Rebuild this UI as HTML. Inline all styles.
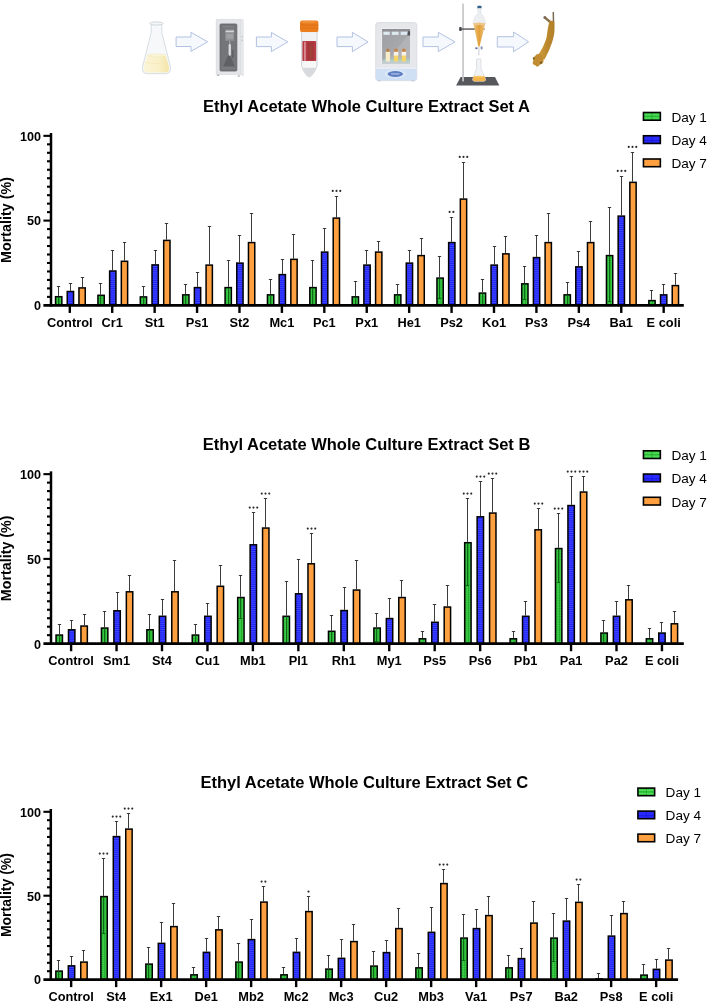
<!DOCTYPE html>
<html><head><meta charset="utf-8"><title>Ethyl Acetate Whole Culture Extract</title>
<style>
html,body{margin:0;padding:0;background:#fff}
body{width:708px;height:1001px;overflow:hidden;font-family:"Liberation Sans",sans-serif}
svg{display:block;will-change:transform}
text{font-family:"Liberation Sans",sans-serif;fill:#000}
.bar{stroke:#000;stroke-width:1.5}
.er{stroke:#262626;stroke-width:.9;fill:none}
.erg{stroke:#0a5e14;stroke-width:1;fill:none;opacity:.9}
.xa{stroke:#000;stroke-width:2.8;fill:none}
.ya{stroke:#000;stroke-width:2.5;fill:none}
.tk{stroke:#000;stroke-width:2.1;fill:none}
.xt{stroke:#000;stroke-width:2.4;fill:none}
.gl{font-weight:bold;text-anchor:middle}
.tl{font-weight:bold;text-anchor:end}
.yt{font-weight:bold;text-anchor:middle}
.ti{font-weight:bold;text-anchor:middle}
.lt{font-weight:normal}
.st{fill:#2a2a2a}
</style></head><body>
<svg width="708" height="1001" viewBox="0 0 708 1001">
<defs>
<pattern id="pg" width="6.4" height="8.1" patternUnits="userSpaceOnUse"><rect width="6.4" height="8.1" fill="#1fab2b"/><g fill="#49da53"><rect x="0.45" y="0.3" width="2.3" height="1.0"/><rect x="3.65" y="0.3" width="2.3" height="1.0"/><rect x="0.45" y="1.92" width="2.3" height="1.0"/><rect x="3.65" y="1.92" width="2.3" height="1.0"/><rect x="0.45" y="3.54" width="2.3" height="1.0"/><rect x="3.65" y="3.54" width="2.3" height="1.0"/><rect x="0.45" y="5.16" width="2.3" height="1.0"/><rect x="3.65" y="5.16" width="2.3" height="1.0"/><rect x="0.45" y="6.78" width="2.3" height="1.0"/><rect x="3.65" y="6.78" width="2.3" height="1.0"/></g></pattern>
<pattern id="pb" width="8" height="7.6" patternUnits="userSpaceOnUse"><rect width="8" height="7.6" fill="#1f1ff6"/><g fill="#4550ff"><rect y="0.0" width="8" height=".85"/><rect y="1.9" width="8" height=".85"/><rect y="3.8" width="8" height=".85"/><rect y="5.7" width="8" height=".85"/></g></pattern>
<pattern id="lg" width="6" height="2.2" patternUnits="userSpaceOnUse" patternTransform="translate(1.2 .6)"><rect width="6" height="2.2" fill="#3fd143"/><rect width="6" height=".6" fill="#22a82a"/><rect width=".6" height="2.2" fill="#22a82a"/></pattern>
<pattern id="lb" width="8.4" height="4.2" patternUnits="userSpaceOnUse" patternTransform="translate(1 1.4)"><rect width="8.4" height="4.2" fill="#2b2bff"/><rect width="8.4" height=".5" fill="#1a1ad0"/><rect width=".5" height="4.2" fill="#1a1ad0"/></pattern>
</defs>
<rect width="708" height="1001" fill="#fff"/>
<g id="icons">
<defs>
<filter id="soft" x="-5%" y="-5%" width="110%" height="110%"><feGaussianBlur stdDeviation="0.6"/></filter>
<linearGradient id="liq" x1="0" x2="1"><stop offset="0" stop-color="#fbf4d6"/><stop offset=".6" stop-color="#f9f0c8"/><stop offset="1" stop-color="#f4e4a6"/></linearGradient>
<linearGradient id="cone" x1="0" x2="1"><stop offset="0" stop-color="#eec27c"/><stop offset=".5" stop-color="#e2a03a"/><stop offset="1" stop-color="#efc583"/></linearGradient>
<linearGradient id="win" x1="0" y1="0" x2="1" y2="1"><stop offset="0" stop-color="#9c9ea3"/><stop offset=".55" stop-color="#a6a8ac"/><stop offset=".56" stop-color="#b0b2b6"/><stop offset="1" stop-color="#b4b6ba"/></linearGradient>
<linearGradient id="lar" x1="0" x2="1"><stop offset="0" stop-color="#d3a043"/><stop offset=".5" stop-color="#be8a2e"/><stop offset="1" stop-color="#b07f2a"/></linearGradient>
</defs>
<g filter="url(#soft)">
<!-- arrows -->
<g fill="#f5f8fc" stroke="#aebfe2" stroke-width=".95" stroke-linejoin="miter">
<path d="M176.1 37H191V32.3L207.6 41.8 191 51.4V46.5H176.1Z"/>
<path d="M256.4 37H271.4V32.4L287.8 41.9 271.4 51.6V46.6H256.4Z"/>
<path d="M337 37H352.4V32.3L368 41.9 352.4 51.6V46.6H337Z"/>
<path d="M423 37H438.3V32.3L455 41.9 438.3 51.6V46.6H423Z"/>
<path d="M497.3 36.7H513.6V32L528.6 41.8 513.6 51.8V47H497.3Z"/>
</g>
<!-- 1 erlenmeyer flask -->
<g>
<path d="M151.2 24.5V32.5L142.6 66.5Q141.2 73.6 147.5 73.7H165.5Q171.8 73.6 170.4 66.5L161.8 32.5V24.5Z" fill="#f6f8f9" stroke="#d3d9dd" stroke-width=".9"/>
<path d="M147.2 55.4Q156.4 52.6 165.6 55.4L168.8 66.3Q170.3 72.4 165.2 72.5H147.8Q142.7 72.4 143.8 66.3Z" fill="url(#liq)"/>
<ellipse cx="156.4" cy="55.4" rx="9.1" ry="1.5" fill="#fbf5d8" stroke="#efe6b8" stroke-width=".5"/>
<path d="M145.6 62.5Q156.4 65 167.4 62.5" fill="none" stroke="#f1e6b4" stroke-width=".6"/>
<ellipse cx="156.4" cy="23.5" rx="6.6" ry="1.6" fill="#f4f7f8" stroke="#c9d2d6" stroke-width=".9"/>
</g>
<!-- 2 sonicator cabinet -->
<g>
<path d="M240 19.4H243.4V76L240 74.6Z" fill="#e7e8ec" stroke="#d6d8dc" stroke-width=".4"/>
<rect x="216.1" y="19.4" width="24.1" height="55.2" fill="#e4e5e9" stroke="#d2d4d9" stroke-width=".5"/>
<rect x="220" y="23.9" width="16.9" height="47.2" rx="1.2" fill="#737578" stroke="#616366" stroke-width=".7"/>
<rect x="225.2" y="29.2" width="9" height="11.6" fill="#8e9093"/>
<rect x="225.6" y="30.7" width="8.3" height="1.5" fill="#d4d6d8"/>
<rect x="226.2" y="34" width="7" height="4.6" fill="#9fa1a4"/>
<rect x="222.6" y="26" width="11.5" height="1.6" fill="#808285"/>
<path d="M229.2 52.5L222.8 67.8H235.2Z" fill="#5f6164"/>
<rect x="228.6" y="44" width="2.3" height="11.8" rx="1.1" fill="#dcdcde"/>
<rect x="229.4" y="40.8" width=".8" height="3.6" fill="#b9babd"/>
<rect x="232.4" y="50" width=".9" height="8" fill="#55575a"/>
<rect x="222" y="66.5" width="13" height="2.6" fill="#808386" opacity=".7"/>
<rect x="217.2" y="74.6" width="2" height="1.3" fill="#a9abae"/>
<rect x="237.8" y="75.4" width="2" height="1.3" fill="#a9abae"/>
<rect x="241.6" y="35.8" width=".9" height="1.5" fill="#b5b7bb"/>
<rect x="241.6" y="39.6" width=".9" height="1.5" fill="#b5b7bb"/>
</g>
<!-- 3 falcon tube -->
<g>
<path d="M301.6 31.5V66Q302.6 70.6 306.6 75.4Q309.2 78.4 311.8 75.4Q316 70.6 317.1 66V31.5Z" fill="#eceef0" stroke="#c9ccd1" stroke-width=".8" stroke-linejoin="round"/>
<path d="M302.8 67.4Q304.4 71.6 307.4 75Q309.2 76.8 311 75Q314.4 71.6 316 67.4Z" fill="#d7d9dc"/>
<rect x="302.5" y="61" width="13.7" height="6.6" fill="#f7f7f8"/>
<rect x="302.4" y="41.1" width="13.8" height="19.9" rx=".8" fill="#b73a44"/>
<rect x="307.5" y="42.5" width="6.5" height="17" fill="#a5383a"/>
<rect x="310" y="46" width="1.6" height="11" fill="#9b4a38" opacity=".7"/>
<rect x="304.4" y="41.8" width="1.1" height="19" fill="#ecc0c3"/>
<rect x="302.6" y="33" width="13.6" height="8" fill="#f2f3f5" opacity=".8"/>
<rect x="300" y="20.5" width="18.4" height="11.6" rx="2.2" fill="#ec7d1f"/>
<rect x="300.3" y="24.6" width="17.8" height="1.1" fill="#d96c15" opacity=".8"/>
<rect x="300.3" y="27.6" width="17.8" height="1.1" fill="#d96c15" opacity=".7"/>
<ellipse cx="309.2" cy="22" rx="8" ry="1.2" fill="#f19540" opacity=".8"/>
</g>
<!-- 4 incubator shaker -->
<g>
<rect x="375.7" y="22.6" width="41.1" height="58" rx="2.6" fill="#e5e7eb" stroke="#d3d6db" stroke-width=".7"/>
<path d="M375.9 68.4H416.6V78.4Q416.6 80.4 414.4 80.4H378.1Q375.9 80.4 375.9 78.4Z" fill="#cfe0f4"/>
<rect x="375.9" y="67.6" width="40.7" height="1.1" fill="#eef1f5"/>
<ellipse cx="395.4" cy="74" rx="11" ry="4.4" fill="#dbe7f8"/>
<ellipse cx="395.3" cy="74" rx="7.8" ry="2.9" fill="#5f7fc3"/>
<rect x="391" y="73.1" width="8.6" height="1.6" rx=".6" fill="#a9bde6" opacity=".75"/>
<rect x="381.4" y="28.3" width="29.4" height="35.9" fill="#eff0f2"/>
<rect x="382.1" y="29" width="28" height="34.5" fill="url(#win)"/>
<rect x="382.1" y="29" width="28" height="2.4" fill="#8e9095"/>
<rect x="383.4" y="31.7" width="6.3" height="3.2" fill="#dde9f0"/>
<rect x="391.8" y="31.7" width="6.8" height="3.2" fill="#dde9f0"/>
<rect x="400.7" y="31.7" width="6.8" height="3.2" fill="#dde9f0"/>
<path d="M408 31.2H410.1V35.4H407.3Z" fill="#505256"/>
<rect x="382.1" y="60.2" width="28" height="3.3" fill="#c3ccd0"/>
<g>
<rect x="385.7" y="51.6" width="4.4" height="10" rx="1" fill="#f6ecc8"/>
<rect x="386.3" y="48.8" width="3.2" height="3" rx=".6" fill="#b9814a"/>
<rect x="393.9" y="51.6" width="4.4" height="5" rx="1" fill="#f7f3ea"/>
<rect x="393.9" y="55.6" width="4.4" height="6" rx=".8" fill="#f4d568"/>
<rect x="394.4" y="48.8" width="3.4" height="3" rx=".6" fill="#cc8440"/>
<rect x="401.7" y="51.6" width="4.4" height="5" rx="1" fill="#f7f3ea"/>
<rect x="401.7" y="55.6" width="4.4" height="6" rx=".8" fill="#f4d568"/>
<rect x="402.2" y="48.8" width="3.4" height="3" rx=".6" fill="#cc8440"/>
<rect x="383.6" y="58.6" width="1.6" height="3.6" fill="#a8d6c8" opacity=".8"/>
<rect x="391.2" y="58.6" width="2" height="3.6" fill="#a8d6c8" opacity=".8"/>
<rect x="399" y="58.6" width="2" height="3.6" fill="#a8d6c8" opacity=".8"/>
<rect x="406.8" y="58.6" width="1.8" height="3.6" fill="#a8d6c8" opacity=".8"/>
</g>
<rect x="378" y="80.4" width="2.6" height="1" fill="#b9c6d6"/>
<rect x="411.8" y="80.4" width="2.6" height="1" fill="#b9c6d6"/>
</g>
<!-- 5 stand + separatory funnel -->
<g>
<path d="M460.6 76.9H495L499.3 85.4H456.1Z" fill="#56585c"/>
<rect x="462.2" y="3.6" width="1.7" height="77.8" fill="#c6c7c9"/>
<rect x="459.4" y="28.4" width="25.2" height="1.3" fill="#4f4b49"/>
<rect x="459.3" y="27" width="2.3" height="4.1" rx=".6" fill="#47444a"/>
<!-- funnel top -->
<rect x="477.4" y="5.8" width="4.1" height="2.8" rx=".7" fill="#2f5f88"/>
<path d="M477.9 8.6H481V13.5Q485.2 17.5 485.4 24H473.2Q473.4 17.5 477.9 13.5Z" fill="#eceef1" stroke="#dcdfe3" stroke-width=".6"/>
<path d="M473.4 23.6Q479.3 22 485.3 23.6L479.5 46.8H478.4Z" fill="url(#cone)"/>
<path d="M473.4 23.6Q479.3 22 485.3 23.6L484.8 25.6Q479.3 24.2 473.9 25.6Z" fill="#efc995" opacity=".85"/>
<!-- stopcock + stem -->
<rect x="475.2" y="47.2" width="2.4" height="2" rx=".8" fill="#6a76a8"/>
<rect x="480.6" y="46.2" width="2" height="3.4" rx=".8" fill="#8a93bd"/>
<rect x="478.3" y="46.8" width="1.2" height="8.6" fill="#d4d6da"/>
<!-- receiving flask -->
<path d="M476.6 58.9H481V68.5L485.5 79.2Q485.8 81 483.8 81.2H474.4Q472.4 81 472.7 79.2L476.6 68.5Z" fill="#f1f3f5" stroke="#d5d9dd" stroke-width=".7"/>
<path d="M473.5 76.6Q479 75.4 484.6 76.6L485.3 79.2Q485.5 81 483.7 81.2H474.5Q472.7 81 472.9 79.2Z" fill="#f3b548"/>
<ellipse cx="479" cy="76.6" rx="5.5" ry=".9" fill="#f7c969"/>
</g>
<!-- 6 larva -->
<g>
<path d="M553.3 12.6L553.5 22" stroke="#7c6a52" stroke-width="1.5" stroke-linecap="round" fill="none"/>
<path d="M545.2 17.8L550.2 22" stroke="#86704f" stroke-width="2.4" stroke-linecap="round" fill="none"/>
<circle cx="544.9" cy="17.6" r="1.5" fill="#7d6b55"/>
<path d="M549.2 21.4Q551.8 19.9 554.4 21.4C554.7 28 554.5 33 553.8 35.8C553 40.2 551.3 45 549.8 48.4C548.4 51.6 546.2 56.4 544.2 59.8L538 54.4C540.4 52 542.6 47.6 543.8 44.9C545 42 546 40 546.4 38.1C547.1 34 547.3 32 547.6 29.7Z" fill="url(#lar)"/>
<path d="M538.6 54Q542.8 54.6 543.6 59.4Q543.8 63.6 540.2 64.6Q539 66.6 536.8 66.8Q535.4 64.8 533.4 64.6Q532 62.6 533.4 60.4Q532.2 57.8 534.6 56.4Q536.2 54 538.6 54Z" fill="#c08d31"/>
<circle cx="533.9" cy="58.4" r="1.1" fill="#7f6420"/>
<circle cx="540.9" cy="62.7" r="1.1" fill="#6e5a22"/>
<circle cx="539.2" cy="60.6" r=".8" fill="#e98a3a"/>
</g>
</g>

</g>
<g id="chartA">
<path d="M58.5 295.95V286.5M56.85 286.5H60.15" class="er"/>
<g transform="translate(56.3 296.7)"><rect x="-0.75" y="0" width="6.3" height="8.65" fill="url(#pg)" class="bar"/></g>
<path d="M58.5 296.95V304.35" class="erg"/>
<path d="M70.5 290.75V283.5M68.85 283.5H72.15" class="er"/>
<rect x="67.25" y="291.5" width="6.3" height="13.85" fill="url(#pb)" class="bar"/>
<path d="M82.5 287.15V277.5M80.85 277.5H84.15" class="er"/>
<rect x="78.95" y="287.9" width="6.3" height="17.45" fill="#ffa040" class="bar"/>
<path d="M69.8 305.35V312.95" class="xt"/>
<text x="69.8" y="326.85" class="gl" style="font-size:12.8px">Control</text>
<path d="M100.5 294.55V283.5M98.85 283.5H102.15" class="er"/>
<g transform="translate(98.68 295.3)"><rect x="-0.75" y="0" width="6.3" height="10.05" fill="url(#pg)" class="bar"/></g>
<path d="M100.5 295.55V304.35" class="erg"/>
<path d="M112.5 270.25V250.5M110.85 250.5H114.15" class="er"/>
<rect x="109.63" y="271" width="6.3" height="34.35" fill="url(#pb)" class="bar"/>
<path d="M124.5 260.55V242.5M122.85 242.5H126.15" class="er"/>
<rect x="121.33" y="261.3" width="6.3" height="44.05" fill="#ffa040" class="bar"/>
<path d="M112.22 305.35V312.95" class="xt"/>
<text x="112.22" y="326.85" class="gl" style="font-size:12.8px">Cr1</text>
<path d="M143.5 296.15V286.5M141.85 286.5H145.15" class="er"/>
<g transform="translate(141.05 296.9)"><rect x="-0.75" y="0" width="6.3" height="8.45" fill="url(#pg)" class="bar"/></g>
<path d="M143.5 297.15V304.35" class="erg"/>
<path d="M155.5 264.15V250.5M153.85 250.5H157.15" class="er"/>
<rect x="152" y="264.9" width="6.3" height="40.45" fill="url(#pb)" class="bar"/>
<path d="M166.5 239.65V223.5M164.85 223.5H168.15" class="er"/>
<rect x="163.7" y="240.4" width="6.3" height="64.95" fill="#ffa040" class="bar"/>
<path d="M154.64 305.35V312.95" class="xt"/>
<text x="154.64" y="326.85" class="gl" style="font-size:12.8px">St1</text>
<path d="M185.5 294.1V284.5M183.85 284.5H187.15" class="er"/>
<g transform="translate(183.43 294.85)"><rect x="-0.75" y="0" width="6.3" height="10.5" fill="url(#pg)" class="bar"/></g>
<path d="M185.5 295.1V304.35" class="erg"/>
<path d="M197.5 286.85V272.5M195.85 272.5H199.15" class="er"/>
<rect x="194.38" y="287.6" width="6.3" height="17.75" fill="url(#pb)" class="bar"/>
<path d="M209.5 264.35V226.5M207.85 226.5H211.15" class="er"/>
<rect x="206.08" y="265.1" width="6.3" height="40.25" fill="#ffa040" class="bar"/>
<path d="M197.06 305.35V312.95" class="xt"/>
<text x="197.06" y="326.85" class="gl" style="font-size:12.8px">Ps1</text>
<path d="M228.5 286.85V260.5M226.85 260.5H230.15" class="er"/>
<g transform="translate(225.81 287.6)"><rect x="-0.75" y="0" width="6.3" height="17.75" fill="url(#pg)" class="bar"/></g>
<path d="M228.5 287.85V304.35" class="erg"/>
<path d="M239.5 262.35V235.5M237.85 235.5H241.15" class="er"/>
<rect x="236.76" y="263.1" width="6.3" height="42.25" fill="url(#pb)" class="bar"/>
<path d="M251.5 241.85V213.5M249.85 213.5H253.15" class="er"/>
<rect x="248.46" y="242.6" width="6.3" height="62.75" fill="#ffa040" class="bar"/>
<path d="M239.48 305.35V312.95" class="xt"/>
<text x="239.48" y="326.85" class="gl" style="font-size:12.8px">St2</text>
<path d="M270.5 294.1V279.5M268.85 279.5H272.15" class="er"/>
<g transform="translate(268.19 294.85)"><rect x="-0.75" y="0" width="6.3" height="10.5" fill="url(#pg)" class="bar"/></g>
<path d="M270.5 295.1V304.35" class="erg"/>
<path d="M282.5 273.85V259.5M280.85 259.5H284.15" class="er"/>
<rect x="279.14" y="274.6" width="6.3" height="30.75" fill="url(#pb)" class="bar"/>
<path d="M293.5 258.6V234.5M291.85 234.5H295.15" class="er"/>
<rect x="290.84" y="259.35" width="6.3" height="46" fill="#ffa040" class="bar"/>
<path d="M281.9 305.35V312.95" class="xt"/>
<text x="281.9" y="326.85" class="gl" style="font-size:12.8px">Mc1</text>
<path d="M312.5 286.85V260.5M310.85 260.5H314.15" class="er"/>
<g transform="translate(310.56 287.6)"><rect x="-0.75" y="0" width="6.3" height="17.75" fill="url(#pg)" class="bar"/></g>
<path d="M312.5 287.85V304.35" class="erg"/>
<path d="M324.5 251.35V228.5M322.85 228.5H326.15" class="er"/>
<rect x="321.51" y="252.1" width="6.3" height="53.25" fill="url(#pb)" class="bar"/>
<path d="M336.5 217.35V196.5M334.85 196.5H338.15" class="er"/>
<rect x="333.21" y="218.1" width="6.3" height="87.25" fill="#ffa040" class="bar"/>
<circle cx="332.75" cy="190.9" r="1.05" class="st"/>
<circle cx="336.5" cy="190.9" r="1.05" class="st"/>
<circle cx="340.25" cy="190.9" r="1.05" class="st"/>
<path d="M324.32 305.35V312.95" class="xt"/>
<text x="324.32" y="326.85" class="gl" style="font-size:12.8px">Pc1</text>
<path d="M355.5 296.1V281.5M353.85 281.5H357.15" class="er"/>
<g transform="translate(352.94 296.85)"><rect x="-0.75" y="0" width="6.3" height="8.5" fill="url(#pg)" class="bar"/></g>
<path d="M355.5 297.1V304.35" class="erg"/>
<path d="M366.5 264.35V250.5M364.85 250.5H368.15" class="er"/>
<rect x="363.89" y="265.1" width="6.3" height="40.25" fill="url(#pb)" class="bar"/>
<path d="M378.5 251.35V241.5M376.85 241.5H380.15" class="er"/>
<rect x="375.59" y="252.1" width="6.3" height="53.25" fill="#ffa040" class="bar"/>
<path d="M366.74 305.35V312.95" class="xt"/>
<text x="366.74" y="326.85" class="gl" style="font-size:12.8px">Px1</text>
<path d="M397.5 294.1V284.5M395.85 284.5H399.15" class="er"/>
<g transform="translate(395.32 294.85)"><rect x="-0.75" y="0" width="6.3" height="10.5" fill="url(#pg)" class="bar"/></g>
<path d="M397.5 295.1V304.35" class="erg"/>
<path d="M409.5 262.35V250.5M407.85 250.5H411.15" class="er"/>
<rect x="406.27" y="263.1" width="6.3" height="42.25" fill="url(#pb)" class="bar"/>
<path d="M421.5 254.85V238.5M419.85 238.5H423.15" class="er"/>
<rect x="417.97" y="255.6" width="6.3" height="49.75" fill="#ffa040" class="bar"/>
<path d="M409.16 305.35V312.95" class="xt"/>
<text x="409.16" y="326.85" class="gl" style="font-size:12.8px">He1</text>
<path d="M439.5 277.35V256.5M437.85 256.5H441.15" class="er"/>
<g transform="translate(437.69 278.1)"><rect x="-0.75" y="0" width="6.3" height="27.25" fill="url(#pg)" class="bar"/></g>
<path d="M439.5 278.35V298.5M437.8 298.5H441.2" class="erg"/>
<path d="M451.5 241.85V217.5M449.85 217.5H453.15" class="er"/>
<rect x="448.64" y="242.6" width="6.3" height="62.75" fill="url(#pb)" class="bar"/>
<circle cx="449.62" cy="211.9" r="1.05" class="st"/>
<circle cx="453.38" cy="211.9" r="1.05" class="st"/>
<path d="M463.5 198.35V162.5M461.85 162.5H465.15" class="er"/>
<rect x="460.34" y="199.1" width="6.3" height="106.25" fill="#ffa040" class="bar"/>
<circle cx="459.75" cy="156.9" r="1.05" class="st"/>
<circle cx="463.5" cy="156.9" r="1.05" class="st"/>
<circle cx="467.25" cy="156.9" r="1.05" class="st"/>
<path d="M451.58 305.35V312.95" class="xt"/>
<text x="451.58" y="326.85" class="gl" style="font-size:12.8px">Ps2</text>
<path d="M482.5 292.35V279.5M480.85 279.5H484.15" class="er"/>
<g transform="translate(480.07 293.1)"><rect x="-0.75" y="0" width="6.3" height="12.25" fill="url(#pg)" class="bar"/></g>
<path d="M482.5 293.35V304.35" class="erg"/>
<path d="M494.5 264.35V246.5M492.85 246.5H496.15" class="er"/>
<rect x="491.02" y="265.1" width="6.3" height="40.25" fill="url(#pb)" class="bar"/>
<path d="M505.5 253.1V236.5M503.85 236.5H507.15" class="er"/>
<rect x="502.72" y="253.85" width="6.3" height="51.5" fill="#ffa040" class="bar"/>
<path d="M494 305.35V312.95" class="xt"/>
<text x="494" y="326.85" class="gl" style="font-size:12.8px">Ko1</text>
<path d="M524.5 283.1V266.5M522.85 266.5H526.15" class="er"/>
<g transform="translate(522.45 283.85)"><rect x="-0.75" y="0" width="6.3" height="21.5" fill="url(#pg)" class="bar"/></g>
<path d="M524.5 284.1V299.5M522.8 299.5H526.2" class="erg"/>
<path d="M536.5 256.85V235.5M534.85 235.5H538.15" class="er"/>
<rect x="533.4" y="257.6" width="6.3" height="47.75" fill="url(#pb)" class="bar"/>
<path d="M548.5 241.85V213.5M546.85 213.5H550.15" class="er"/>
<rect x="545.1" y="242.6" width="6.3" height="62.75" fill="#ffa040" class="bar"/>
<path d="M536.42 305.35V312.95" class="xt"/>
<text x="536.42" y="326.85" class="gl" style="font-size:12.8px">Ps3</text>
<path d="M567.5 294.1V282.5M565.85 282.5H569.15" class="er"/>
<g transform="translate(564.83 294.85)"><rect x="-0.75" y="0" width="6.3" height="10.5" fill="url(#pg)" class="bar"/></g>
<path d="M567.5 295.1V304.35" class="erg"/>
<path d="M578.5 266.1V251.5M576.85 251.5H580.15" class="er"/>
<rect x="575.78" y="266.85" width="6.3" height="38.5" fill="url(#pb)" class="bar"/>
<path d="M590.5 241.85V221.5M588.85 221.5H592.15" class="er"/>
<rect x="587.48" y="242.6" width="6.3" height="62.75" fill="#ffa040" class="bar"/>
<path d="M578.84 305.35V312.95" class="xt"/>
<text x="578.84" y="326.85" class="gl" style="font-size:12.8px">Ps4</text>
<path d="M609.5 254.85V207.5M607.85 207.5H611.15" class="er"/>
<g transform="translate(607.2 255.6)"><rect x="-0.75" y="0" width="6.3" height="49.75" fill="url(#pg)" class="bar"/></g>
<path d="M609.5 255.85V301.5M607.8 301.5H611.2" class="erg"/>
<path d="M621.5 215.35V176.5M619.85 176.5H623.15" class="er"/>
<rect x="618.15" y="216.1" width="6.3" height="89.25" fill="url(#pb)" class="bar"/>
<circle cx="617.75" cy="170.9" r="1.05" class="st"/>
<circle cx="621.5" cy="170.9" r="1.05" class="st"/>
<circle cx="625.25" cy="170.9" r="1.05" class="st"/>
<path d="M632.5 181.6V152.5M630.85 152.5H634.15" class="er"/>
<rect x="629.85" y="182.35" width="6.3" height="123" fill="#ffa040" class="bar"/>
<circle cx="628.75" cy="146.9" r="1.05" class="st"/>
<circle cx="632.5" cy="146.9" r="1.05" class="st"/>
<circle cx="636.25" cy="146.9" r="1.05" class="st"/>
<path d="M621.26 305.35V312.95" class="xt"/>
<text x="621.26" y="326.85" class="gl" style="font-size:12.8px">Ba1</text>
<path d="M651.5 299.85V290.5M649.85 290.5H653.15" class="er"/>
<g transform="translate(649.58 300.6)"><rect x="-0.75" y="0" width="6.3" height="4.75" fill="url(#pg)" class="bar"/></g>
<path d="M663.5 294.1V284.5M661.85 284.5H665.15" class="er"/>
<rect x="660.53" y="294.85" width="6.3" height="10.5" fill="url(#pb)" class="bar"/>
<path d="M675.5 284.85V273.5M673.85 273.5H677.15" class="er"/>
<rect x="672.23" y="285.6" width="6.3" height="19.75" fill="#ffa040" class="bar"/>
<path d="M663.68 305.35V312.95" class="xt"/>
<text x="663.68" y="326.85" class="gl" style="font-size:12.8px">E coli</text>
<path d="M43.4 305.35H683.8" class="xa"/>
<path d="M51 306.65V133.05" class="ya"/>
<text x="40.9" y="310.2" class="tl" style="font-size:12.6px">0</text>
<path d="M47 296.88H51" class="tk"/>
<path d="M47 288.4H51" class="tk"/>
<path d="M47 279.93H51" class="tk"/>
<path d="M47 271.45H51" class="tk"/>
<path d="M47 262.98H51" class="tk"/>
<path d="M47 254.5H51" class="tk"/>
<path d="M47 246.03H51" class="tk"/>
<path d="M47 237.55H51" class="tk"/>
<path d="M47 229.08H51" class="tk"/>
<path d="M43.4 220.6H51" class="tk"/>
<text x="40.9" y="225.45" class="tl" style="font-size:12.6px">50</text>
<path d="M47 212.13H51" class="tk"/>
<path d="M47 203.65H51" class="tk"/>
<path d="M47 195.18H51" class="tk"/>
<path d="M47 186.7H51" class="tk"/>
<path d="M47 178.23H51" class="tk"/>
<path d="M47 169.75H51" class="tk"/>
<path d="M47 161.28H51" class="tk"/>
<path d="M47 152.8H51" class="tk"/>
<path d="M47 144.33H51" class="tk"/>
<path d="M43.4 135.85H51" class="tk"/>
<text x="40.9" y="140.7" class="tl" style="font-size:12.6px">100</text>
<text transform="translate(10.6 220) rotate(-90)" class="yt" style="font-size:14.3px">Mortality (%)</text>
<text x="366.5" y="112.45" class="ti" style="font-size:16.5px">Ethyl Acetate Whole Culture Extract Set A</text>
<rect x="643.45" y="112.5" width="16.9" height="7.7" fill="#3dd048"/>
<path d="M644.25 114.81H659.55M644.25 118.04H659.55" stroke="#62ea6c" stroke-width=".9" stroke-dasharray="1.1 .55" fill="none"/>
<path d="M651.9 112.5V120.2M643.45 116.35H660.35" stroke="#1fa52b" stroke-width=".7" fill="none"/>
<rect x="643.45" y="112.5" width="16.9" height="7.7" fill="none" class="bar" style="stroke-width:1.6"/>
<text x="671.4" y="121.75" class="lt" style="font-size:13.6px">Day 1</text>
<rect x="643.45" y="135.75" width="16.9" height="7.7" fill="#2a2aff"/>
<path d="M651.9 135.75V143.45M643.45 140.52H660.35" stroke="#1212d6" stroke-width=".7" fill="none"/>
<rect x="643.45" y="135.75" width="16.9" height="7.7" fill="none" class="bar" style="stroke-width:1.6"/>
<text x="671.4" y="145" class="lt" style="font-size:13.6px">Day 4</text>
<rect x="643.45" y="159" width="16.9" height="7.7" fill="#ffa040"/>
<rect x="643.45" y="159" width="16.9" height="7.7" fill="none" class="bar" style="stroke-width:1.6"/>
<text x="671.4" y="168.25" class="lt" style="font-size:13.6px">Day 7</text>
</g>
<g id="chartB">
<path d="M59.5 634.3V624.5M57.85 624.5H61.15" class="er"/>
<g transform="translate(56.8 635.05)"><rect x="-0.75" y="0" width="6.4" height="8.6" fill="url(#pg)" class="bar"/></g>
<path d="M59.5 635.3V642.65" class="erg"/>
<path d="M71.5 629.05V620.5M69.85 620.5H73.15" class="er"/>
<rect x="68.5" y="629.8" width="6.4" height="13.85" fill="url(#pb)" class="bar"/>
<path d="M84.5 625.3V614.5M82.85 614.5H86.15" class="er"/>
<rect x="80.95" y="626.05" width="6.4" height="17.6" fill="#ffa040" class="bar"/>
<path d="M71.1 643.65V651.25" class="xt"/>
<text x="71.1" y="665.15" class="gl" style="font-size:12.8px">Control</text>
<path d="M104.5 627.3V611.5M102.85 611.5H106.15" class="er"/>
<g transform="translate(102.2 628.05)"><rect x="-0.75" y="0" width="6.4" height="15.6" fill="url(#pg)" class="bar"/></g>
<path d="M104.5 628.3V642.65" class="erg"/>
<path d="M117.5 610.05V592.5M115.85 592.5H119.15" class="er"/>
<rect x="113.9" y="610.8" width="6.4" height="32.85" fill="url(#pb)" class="bar"/>
<path d="M129.5 591.05V575.5M127.85 575.5H131.15" class="er"/>
<rect x="126.35" y="591.8" width="6.4" height="51.85" fill="#ffa040" class="bar"/>
<path d="M116.55 643.65V651.25" class="xt"/>
<text x="116.55" y="665.15" class="gl" style="font-size:12.8px">Sm1</text>
<path d="M149.5 629.05V614.5M147.85 614.5H151.15" class="er"/>
<g transform="translate(147.61 629.8)"><rect x="-0.75" y="0" width="6.4" height="13.85" fill="url(#pg)" class="bar"/></g>
<path d="M149.5 630.05V642.65" class="erg"/>
<path d="M162.5 615.55V599.5M160.85 599.5H164.15" class="er"/>
<rect x="159.31" y="616.3" width="6.4" height="27.35" fill="url(#pb)" class="bar"/>
<path d="M174.5 591.05V560.5M172.85 560.5H176.15" class="er"/>
<rect x="171.76" y="591.8" width="6.4" height="51.85" fill="#ffa040" class="bar"/>
<path d="M162 643.65V651.25" class="xt"/>
<text x="162" y="665.15" class="gl" style="font-size:12.8px">St4</text>
<path d="M195.5 634.3V624.5M193.85 624.5H197.15" class="er"/>
<g transform="translate(193.01 635.05)"><rect x="-0.75" y="0" width="6.4" height="8.6" fill="url(#pg)" class="bar"/></g>
<path d="M195.5 635.3V642.65" class="erg"/>
<path d="M207.5 615.55V603.5M205.85 603.5H209.15" class="er"/>
<rect x="204.71" y="616.3" width="6.4" height="27.35" fill="url(#pb)" class="bar"/>
<path d="M220.5 585.55V565.5M218.85 565.5H222.15" class="er"/>
<rect x="217.16" y="586.3" width="6.4" height="57.35" fill="#ffa040" class="bar"/>
<path d="M207.45 643.65V651.25" class="xt"/>
<text x="207.45" y="665.15" class="gl" style="font-size:12.8px">Cu1</text>
<path d="M240.5 596.8V575.5M238.85 575.5H242.15" class="er"/>
<g transform="translate(238.42 597.55)"><rect x="-0.75" y="0" width="6.4" height="46.1" fill="url(#pg)" class="bar"/></g>
<path d="M240.5 597.8V618.5M238.8 618.5H242.2" class="erg"/>
<path d="M253.5 544.05V512.5M251.85 512.5H255.15" class="er"/>
<rect x="250.12" y="544.8" width="6.4" height="98.85" fill="url(#pb)" class="bar"/>
<circle cx="249.75" cy="507.6" r="1.05" class="st"/>
<circle cx="253.5" cy="507.6" r="1.05" class="st"/>
<circle cx="257.25" cy="507.6" r="1.05" class="st"/>
<path d="M265.5 527.3V498.5M263.85 498.5H267.15" class="er"/>
<rect x="262.57" y="528.05" width="6.4" height="115.6" fill="#ffa040" class="bar"/>
<circle cx="261.75" cy="493.6" r="1.05" class="st"/>
<circle cx="265.5" cy="493.6" r="1.05" class="st"/>
<circle cx="269.25" cy="493.6" r="1.05" class="st"/>
<path d="M252.9 643.65V651.25" class="xt"/>
<text x="252.9" y="665.15" class="gl" style="font-size:12.8px">Mb1</text>
<path d="M286.5 615.55V581.5M284.85 581.5H288.15" class="er"/>
<g transform="translate(283.82 616.3)"><rect x="-0.75" y="0" width="6.4" height="27.35" fill="url(#pg)" class="bar"/></g>
<path d="M286.5 616.55V642.65" class="erg"/>
<path d="M298.5 593.05V559.5M296.85 559.5H300.15" class="er"/>
<rect x="295.52" y="593.8" width="6.4" height="49.85" fill="url(#pb)" class="bar"/>
<path d="M311.5 563.05V533.5M309.85 533.5H313.15" class="er"/>
<rect x="307.97" y="563.8" width="6.4" height="79.85" fill="#ffa040" class="bar"/>
<circle cx="307.75" cy="528.6" r="1.05" class="st"/>
<circle cx="311.5" cy="528.6" r="1.05" class="st"/>
<circle cx="315.25" cy="528.6" r="1.05" class="st"/>
<path d="M298.35 643.65V651.25" class="xt"/>
<text x="298.35" y="665.15" class="gl" style="font-size:12.8px">Pl1</text>
<path d="M331.5 630.55V615.5M329.85 615.5H333.15" class="er"/>
<g transform="translate(329.22 631.3)"><rect x="-0.75" y="0" width="6.4" height="12.35" fill="url(#pg)" class="bar"/></g>
<path d="M331.5 631.55V642.65" class="erg"/>
<path d="M344.5 609.8V587.5M342.85 587.5H346.15" class="er"/>
<rect x="340.92" y="610.55" width="6.4" height="33.1" fill="url(#pb)" class="bar"/>
<path d="M356.5 589.3V560.5M354.85 560.5H358.15" class="er"/>
<rect x="353.37" y="590.05" width="6.4" height="53.6" fill="#ffa040" class="bar"/>
<path d="M343.8 643.65V651.25" class="xt"/>
<text x="343.8" y="665.15" class="gl" style="font-size:12.8px">Rh1</text>
<path d="M376.5 627.3V613.5M374.85 613.5H378.15" class="er"/>
<g transform="translate(374.63 628.05)"><rect x="-0.75" y="0" width="6.4" height="15.6" fill="url(#pg)" class="bar"/></g>
<path d="M376.5 628.3V641.5M374.8 641.5H378.2" class="erg"/>
<path d="M389.5 617.8V598.5M387.85 598.5H391.15" class="er"/>
<rect x="386.33" y="618.55" width="6.4" height="25.1" fill="url(#pb)" class="bar"/>
<path d="M401.5 596.8V580.5M399.85 580.5H403.15" class="er"/>
<rect x="398.78" y="597.55" width="6.4" height="46.1" fill="#ffa040" class="bar"/>
<path d="M389.25 643.65V651.25" class="xt"/>
<text x="389.25" y="665.15" class="gl" style="font-size:12.8px">My1</text>
<path d="M422.5 638.05V631.5M420.85 631.5H424.15" class="er"/>
<g transform="translate(420.03 638.8)"><rect x="-0.75" y="0" width="6.4" height="4.85" fill="url(#pg)" class="bar"/></g>
<path d="M434.5 621.55V604.5M432.85 604.5H436.15" class="er"/>
<rect x="431.73" y="622.3" width="6.4" height="21.35" fill="url(#pb)" class="bar"/>
<path d="M447.5 606.3V585.5M445.85 585.5H449.15" class="er"/>
<rect x="444.18" y="607.05" width="6.4" height="36.6" fill="#ffa040" class="bar"/>
<path d="M434.7 643.65V651.25" class="xt"/>
<text x="434.7" y="665.15" class="gl" style="font-size:12.8px">Ps5</text>
<path d="M467.5 541.95V498.5M465.85 498.5H469.15" class="er"/>
<g transform="translate(465.43 542.7)"><rect x="-0.75" y="0" width="6.4" height="100.95" fill="url(#pg)" class="bar"/></g>
<path d="M467.5 542.95V585.5M465.8 585.5H469.2" class="erg"/>
<circle cx="463.75" cy="493.6" r="1.05" class="st"/>
<circle cx="467.5" cy="493.6" r="1.05" class="st"/>
<circle cx="471.25" cy="493.6" r="1.05" class="st"/>
<path d="M480.5 516.05V481.5M478.85 481.5H482.15" class="er"/>
<rect x="477.13" y="516.8" width="6.4" height="126.85" fill="url(#pb)" class="bar"/>
<circle cx="476.75" cy="476.6" r="1.05" class="st"/>
<circle cx="480.5" cy="476.6" r="1.05" class="st"/>
<circle cx="484.25" cy="476.6" r="1.05" class="st"/>
<path d="M492.5 512.3V478.5M490.85 478.5H494.15" class="er"/>
<rect x="489.58" y="513.05" width="6.4" height="130.6" fill="#ffa040" class="bar"/>
<circle cx="488.75" cy="473.6" r="1.05" class="st"/>
<circle cx="492.5" cy="473.6" r="1.05" class="st"/>
<circle cx="496.25" cy="473.6" r="1.05" class="st"/>
<path d="M480.15 643.65V651.25" class="xt"/>
<text x="480.15" y="665.15" class="gl" style="font-size:12.8px">Ps6</text>
<path d="M513.5 638.05V631.5M511.85 631.5H515.15" class="er"/>
<g transform="translate(510.84 638.8)"><rect x="-0.75" y="0" width="6.4" height="4.85" fill="url(#pg)" class="bar"/></g>
<path d="M525.5 615.55V601.5M523.85 601.5H527.15" class="er"/>
<rect x="522.54" y="616.3" width="6.4" height="27.35" fill="url(#pb)" class="bar"/>
<path d="M538.5 529.05V508.5M536.85 508.5H540.15" class="er"/>
<rect x="534.99" y="529.8" width="6.4" height="113.85" fill="#ffa040" class="bar"/>
<circle cx="534.75" cy="503.6" r="1.05" class="st"/>
<circle cx="538.5" cy="503.6" r="1.05" class="st"/>
<circle cx="542.25" cy="503.6" r="1.05" class="st"/>
<path d="M525.6 643.65V651.25" class="xt"/>
<text x="525.6" y="665.15" class="gl" style="font-size:12.8px">Pb1</text>
<path d="M558.5 547.8V513.5M556.85 513.5H560.15" class="er"/>
<g transform="translate(556.24 548.55)"><rect x="-0.75" y="0" width="6.4" height="95.1" fill="url(#pg)" class="bar"/></g>
<path d="M558.5 548.8V582.5M556.8 582.5H560.2" class="erg"/>
<circle cx="554.75" cy="508.6" r="1.05" class="st"/>
<circle cx="558.5" cy="508.6" r="1.05" class="st"/>
<circle cx="562.25" cy="508.6" r="1.05" class="st"/>
<path d="M571.5 504.8V476.5M569.85 476.5H573.15" class="er"/>
<rect x="567.94" y="505.55" width="6.4" height="138.1" fill="url(#pb)" class="bar"/>
<circle cx="567.75" cy="471.6" r="1.05" class="st"/>
<circle cx="571.5" cy="471.6" r="1.05" class="st"/>
<circle cx="575.25" cy="471.6" r="1.05" class="st"/>
<path d="M583.5 491.3V476.5M581.85 476.5H585.15" class="er"/>
<rect x="580.39" y="492.05" width="6.4" height="151.6" fill="#ffa040" class="bar"/>
<circle cx="579.75" cy="471.6" r="1.05" class="st"/>
<circle cx="583.5" cy="471.6" r="1.05" class="st"/>
<circle cx="587.25" cy="471.6" r="1.05" class="st"/>
<path d="M571.05 643.65V651.25" class="xt"/>
<text x="571.05" y="665.15" class="gl" style="font-size:12.8px">Pa1</text>
<path d="M603.5 632.3V620.5M601.85 620.5H605.15" class="er"/>
<g transform="translate(601.65 633.05)"><rect x="-0.75" y="0" width="6.4" height="10.6" fill="url(#pg)" class="bar"/></g>
<path d="M603.5 633.3V642.65" class="erg"/>
<path d="M616.5 615.55V601.5M614.85 601.5H618.15" class="er"/>
<rect x="613.35" y="616.3" width="6.4" height="27.35" fill="url(#pb)" class="bar"/>
<path d="M628.5 599.05V585.5M626.85 585.5H630.15" class="er"/>
<rect x="625.8" y="599.8" width="6.4" height="43.85" fill="#ffa040" class="bar"/>
<path d="M616.5 643.65V651.25" class="xt"/>
<text x="616.5" y="665.15" class="gl" style="font-size:12.8px">Pa2</text>
<path d="M649.5 638.05V628.5M647.85 628.5H651.15" class="er"/>
<g transform="translate(647.05 638.8)"><rect x="-0.75" y="0" width="6.4" height="4.85" fill="url(#pg)" class="bar"/></g>
<path d="M661.5 632.3V622.5M659.85 622.5H663.15" class="er"/>
<rect x="658.75" y="633.05" width="6.4" height="10.6" fill="url(#pb)" class="bar"/>
<path d="M674.5 623.05V611.5M672.85 611.5H676.15" class="er"/>
<rect x="671.2" y="623.8" width="6.4" height="19.85" fill="#ffa040" class="bar"/>
<path d="M661.95 643.65V651.25" class="xt"/>
<text x="661.95" y="665.15" class="gl" style="font-size:12.8px">E coli</text>
<path d="M43.4 643.65H683.8" class="xa"/>
<path d="M51 644.95V471.35" class="ya"/>
<text x="40.9" y="648.5" class="tl" style="font-size:12.6px">0</text>
<path d="M47 635.17H51" class="tk"/>
<path d="M47 626.7H51" class="tk"/>
<path d="M47 618.23H51" class="tk"/>
<path d="M47 609.75H51" class="tk"/>
<path d="M47 601.27H51" class="tk"/>
<path d="M47 592.8H51" class="tk"/>
<path d="M47 584.32H51" class="tk"/>
<path d="M47 575.85H51" class="tk"/>
<path d="M47 567.38H51" class="tk"/>
<path d="M43.4 558.9H51" class="tk"/>
<text x="40.9" y="563.75" class="tl" style="font-size:12.6px">50</text>
<path d="M47 550.42H51" class="tk"/>
<path d="M47 541.95H51" class="tk"/>
<path d="M47 533.48H51" class="tk"/>
<path d="M47 525H51" class="tk"/>
<path d="M47 516.52H51" class="tk"/>
<path d="M47 508.05H51" class="tk"/>
<path d="M47 499.57H51" class="tk"/>
<path d="M47 491.1H51" class="tk"/>
<path d="M47 482.62H51" class="tk"/>
<path d="M43.4 474.15H51" class="tk"/>
<text x="40.9" y="479" class="tl" style="font-size:12.6px">100</text>
<text transform="translate(10.6 558.3) rotate(-90)" class="yt" style="font-size:14.3px">Mortality (%)</text>
<text x="366.5" y="450.2" class="ti" style="font-size:16.5px">Ethyl Acetate Whole Culture Extract Set B</text>
<rect x="643.45" y="450.8" width="16.9" height="7.7" fill="#3dd048"/>
<path d="M644.25 453.11H659.55M644.25 456.34H659.55" stroke="#62ea6c" stroke-width=".9" stroke-dasharray="1.1 .55" fill="none"/>
<path d="M651.9 450.8V458.5M643.45 454.65H660.35" stroke="#1fa52b" stroke-width=".7" fill="none"/>
<rect x="643.45" y="450.8" width="16.9" height="7.7" fill="none" class="bar" style="stroke-width:1.6"/>
<text x="671.4" y="460.05" class="lt" style="font-size:13.6px">Day 1</text>
<rect x="643.45" y="474.05" width="16.9" height="7.7" fill="#2a2aff"/>
<path d="M651.9 474.05V481.75M643.45 478.82H660.35" stroke="#1212d6" stroke-width=".7" fill="none"/>
<rect x="643.45" y="474.05" width="16.9" height="7.7" fill="none" class="bar" style="stroke-width:1.6"/>
<text x="671.4" y="483.3" class="lt" style="font-size:13.6px">Day 4</text>
<rect x="643.45" y="497.3" width="16.9" height="7.7" fill="#ffa040"/>
<rect x="643.45" y="497.3" width="16.9" height="7.7" fill="none" class="bar" style="stroke-width:1.6"/>
<text x="671.4" y="506.55" class="lt" style="font-size:13.6px">Day 7</text>
</g>
<g id="chartC">
<path d="M58.5 970.35V960.5M56.85 960.5H60.15" class="er"/>
<g transform="translate(56.6 971.1)"><rect x="-0.75" y="0" width="6.4" height="8.5" fill="url(#pg)" class="bar"/></g>
<path d="M58.5 971.35V978.6" class="erg"/>
<path d="M71.5 965.1V956.5M69.85 956.5H73.15" class="er"/>
<rect x="68.3" y="965.85" width="6.4" height="13.75" fill="url(#pb)" class="bar"/>
<path d="M83.5 961.35V950.5M81.85 950.5H85.15" class="er"/>
<rect x="80.75" y="962.1" width="6.4" height="17.5" fill="#ffa040" class="bar"/>
<path d="M71.15 979.6V987.12" class="xt"/>
<text x="71.15" y="1000.88" class="gl" style="font-size:12.8px">Control</text>
<path d="M103.5 895.85V858.5M101.85 858.5H105.15" class="er"/>
<g transform="translate(101.6 896.6)"><rect x="-0.75" y="0" width="6.4" height="83" fill="url(#pg)" class="bar"/></g>
<path d="M103.5 896.85V933.5M101.8 933.5H105.2" class="erg"/>
<circle cx="99.75" cy="853.6" r="1.05" class="st"/>
<circle cx="103.5" cy="853.6" r="1.05" class="st"/>
<circle cx="107.25" cy="853.6" r="1.05" class="st"/>
<path d="M116.5 835.85V821.5M114.85 821.5H118.15" class="er"/>
<rect x="113.3" y="836.6" width="6.4" height="143" fill="url(#pb)" class="bar"/>
<circle cx="112.75" cy="816.6" r="1.05" class="st"/>
<circle cx="116.5" cy="816.6" r="1.05" class="st"/>
<circle cx="120.25" cy="816.6" r="1.05" class="st"/>
<path d="M128.5 828.35V813.5M126.85 813.5H130.15" class="er"/>
<rect x="125.75" y="829.1" width="6.4" height="150.5" fill="#ffa040" class="bar"/>
<circle cx="124.75" cy="808.6" r="1.05" class="st"/>
<circle cx="128.5" cy="808.6" r="1.05" class="st"/>
<circle cx="132.25" cy="808.6" r="1.05" class="st"/>
<path d="M116.15 979.6V987.12" class="xt"/>
<text x="116.15" y="1000.88" class="gl" style="font-size:12.8px">St4</text>
<path d="M148.5 963.35V947.5M146.85 947.5H150.15" class="er"/>
<g transform="translate(146.6 964.1)"><rect x="-0.75" y="0" width="6.4" height="15.5" fill="url(#pg)" class="bar"/></g>
<path d="M148.5 964.35V978.6" class="erg"/>
<path d="M161.5 942.6V922.5M159.85 922.5H163.15" class="er"/>
<rect x="158.3" y="943.35" width="6.4" height="36.25" fill="url(#pb)" class="bar"/>
<path d="M173.5 925.85V903.5M171.85 903.5H175.15" class="er"/>
<rect x="170.75" y="926.6" width="6.4" height="53" fill="#ffa040" class="bar"/>
<path d="M161.15 979.6V987.12" class="xt"/>
<text x="161.15" y="1000.88" class="gl" style="font-size:12.8px">Ex1</text>
<path d="M193.5 974.1V967.5M191.85 967.5H195.15" class="er"/>
<g transform="translate(191.6 974.85)"><rect x="-0.75" y="0" width="6.4" height="4.75" fill="url(#pg)" class="bar"/></g>
<path d="M206.5 951.6V938.5M204.85 938.5H208.15" class="er"/>
<rect x="203.3" y="952.35" width="6.4" height="27.25" fill="url(#pb)" class="bar"/>
<path d="M218.5 929.1V916.5M216.85 916.5H220.15" class="er"/>
<rect x="215.75" y="929.85" width="6.4" height="49.75" fill="#ffa040" class="bar"/>
<path d="M206.15 979.6V987.12" class="xt"/>
<text x="206.15" y="1000.88" class="gl" style="font-size:12.8px">De1</text>
<path d="M238.5 961.35V943.5M236.85 943.5H240.15" class="er"/>
<g transform="translate(236.6 962.1)"><rect x="-0.75" y="0" width="6.4" height="17.5" fill="url(#pg)" class="bar"/></g>
<path d="M238.5 962.35V978.6" class="erg"/>
<path d="M251.5 938.85V919.5M249.85 919.5H253.15" class="er"/>
<rect x="248.3" y="939.6" width="6.4" height="40" fill="url(#pb)" class="bar"/>
<path d="M263.5 901.35V886.5M261.85 886.5H265.15" class="er"/>
<rect x="260.75" y="902.1" width="6.4" height="77.5" fill="#ffa040" class="bar"/>
<circle cx="261.62" cy="881.6" r="1.05" class="st"/>
<circle cx="265.38" cy="881.6" r="1.05" class="st"/>
<path d="M251.15 979.6V987.12" class="xt"/>
<text x="251.15" y="1000.88" class="gl" style="font-size:12.8px">Mb2</text>
<path d="M283.5 974.1V967.5M281.85 967.5H285.15" class="er"/>
<g transform="translate(281.6 974.85)"><rect x="-0.75" y="0" width="6.4" height="4.75" fill="url(#pg)" class="bar"/></g>
<path d="M296.5 951.6V938.5M294.85 938.5H298.15" class="er"/>
<rect x="293.3" y="952.35" width="6.4" height="27.25" fill="url(#pb)" class="bar"/>
<path d="M308.5 910.85V896.5M306.85 896.5H310.15" class="er"/>
<rect x="305.75" y="911.6" width="6.4" height="68" fill="#ffa040" class="bar"/>
<circle cx="308.5" cy="891.6" r="1.05" class="st"/>
<path d="M296.15 979.6V987.12" class="xt"/>
<text x="296.15" y="1000.88" class="gl" style="font-size:12.8px">Mc2</text>
<path d="M328.5 968.35V955.5M326.85 955.5H330.15" class="er"/>
<g transform="translate(326.6 969.1)"><rect x="-0.75" y="0" width="6.4" height="10.5" fill="url(#pg)" class="bar"/></g>
<path d="M328.5 969.35V978.6" class="erg"/>
<path d="M341.5 957.6V939.5M339.85 939.5H343.15" class="er"/>
<rect x="338.3" y="958.35" width="6.4" height="21.25" fill="url(#pb)" class="bar"/>
<path d="M353.5 940.85V924.5M351.85 924.5H355.15" class="er"/>
<rect x="350.75" y="941.6" width="6.4" height="38" fill="#ffa040" class="bar"/>
<path d="M341.15 979.6V987.12" class="xt"/>
<text x="341.15" y="1000.88" class="gl" style="font-size:12.8px">Mc3</text>
<path d="M373.5 965.35V951.5M371.85 951.5H375.15" class="er"/>
<g transform="translate(371.6 966.1)"><rect x="-0.75" y="0" width="6.4" height="13.5" fill="url(#pg)" class="bar"/></g>
<path d="M373.5 966.35V978.6" class="erg"/>
<path d="M386.5 951.85V940.5M384.85 940.5H388.15" class="er"/>
<rect x="383.3" y="952.6" width="6.4" height="27" fill="url(#pb)" class="bar"/>
<path d="M398.5 927.85V908.5M396.85 908.5H400.15" class="er"/>
<rect x="395.75" y="928.6" width="6.4" height="51" fill="#ffa040" class="bar"/>
<path d="M386.15 979.6V987.12" class="xt"/>
<text x="386.15" y="1000.88" class="gl" style="font-size:12.8px">Cu2</text>
<path d="M418.5 967.1V953.5M416.85 953.5H420.15" class="er"/>
<g transform="translate(416.6 967.85)"><rect x="-0.75" y="0" width="6.4" height="11.75" fill="url(#pg)" class="bar"/></g>
<path d="M418.5 968.1V978.6" class="erg"/>
<path d="M431.5 931.6V907.5M429.85 907.5H433.15" class="er"/>
<rect x="428.3" y="932.35" width="6.4" height="47.25" fill="url(#pb)" class="bar"/>
<path d="M443.5 882.85V869.5M441.85 869.5H445.15" class="er"/>
<rect x="440.75" y="883.6" width="6.4" height="96" fill="#ffa040" class="bar"/>
<circle cx="439.75" cy="864.6" r="1.05" class="st"/>
<circle cx="443.5" cy="864.6" r="1.05" class="st"/>
<circle cx="447.25" cy="864.6" r="1.05" class="st"/>
<path d="M431.15 979.6V987.12" class="xt"/>
<text x="431.15" y="1000.88" class="gl" style="font-size:12.8px">Mb3</text>
<path d="M463.5 937.35V914.5M461.85 914.5H465.15" class="er"/>
<g transform="translate(461.6 938.1)"><rect x="-0.75" y="0" width="6.4" height="41.5" fill="url(#pg)" class="bar"/></g>
<path d="M463.5 938.35V960.5M461.8 960.5H465.2" class="erg"/>
<path d="M476.5 927.85V909.5M474.85 909.5H478.15" class="er"/>
<rect x="473.3" y="928.6" width="6.4" height="51" fill="url(#pb)" class="bar"/>
<path d="M488.5 914.85V896.5M486.85 896.5H490.15" class="er"/>
<rect x="485.75" y="915.6" width="6.4" height="64" fill="#ffa040" class="bar"/>
<path d="M476.15 979.6V987.12" class="xt"/>
<text x="476.15" y="1000.88" class="gl" style="font-size:12.8px">Va1</text>
<path d="M508.5 967.1V955.5M506.85 955.5H510.15" class="er"/>
<g transform="translate(506.6 967.85)"><rect x="-0.75" y="0" width="6.4" height="11.75" fill="url(#pg)" class="bar"/></g>
<path d="M508.5 968.1V978.6" class="erg"/>
<path d="M521.5 957.85V948.5M519.85 948.5H523.15" class="er"/>
<rect x="518.3" y="958.6" width="6.4" height="21" fill="url(#pb)" class="bar"/>
<path d="M533.5 922.35V901.5M531.85 901.5H535.15" class="er"/>
<rect x="530.75" y="923.1" width="6.4" height="56.5" fill="#ffa040" class="bar"/>
<path d="M521.15 979.6V987.12" class="xt"/>
<text x="521.15" y="1000.88" class="gl" style="font-size:12.8px">Ps7</text>
<path d="M553.5 937.35V913.5M551.85 913.5H555.15" class="er"/>
<g transform="translate(551.6 938.1)"><rect x="-0.75" y="0" width="6.4" height="41.5" fill="url(#pg)" class="bar"/></g>
<path d="M553.5 938.35V961.5M551.8 961.5H555.2" class="erg"/>
<path d="M566.5 920.35V898.5M564.85 898.5H568.15" class="er"/>
<rect x="563.3" y="921.1" width="6.4" height="58.5" fill="url(#pb)" class="bar"/>
<path d="M578.5 901.6V884.5M576.85 884.5H580.15" class="er"/>
<rect x="575.75" y="902.35" width="6.4" height="77.25" fill="#ffa040" class="bar"/>
<circle cx="576.62" cy="879.6" r="1.05" class="st"/>
<circle cx="580.38" cy="879.6" r="1.05" class="st"/>
<path d="M566.15 979.6V987.12" class="xt"/>
<text x="566.15" y="1000.88" class="gl" style="font-size:12.8px">Ba2</text>
<path d="M598.5 978.2V973.5M596.85 973.5H600.15" class="er"/>
<g transform="translate(596.6 978.95)"><rect x="-0.75" y="0" width="6.4" height="0.65" fill="url(#pg)" class="bar"/></g>
<path d="M611.5 935.35V915.5M609.85 915.5H613.15" class="er"/>
<rect x="608.3" y="936.1" width="6.4" height="43.5" fill="url(#pb)" class="bar"/>
<path d="M623.5 912.85V901.5M621.85 901.5H625.15" class="er"/>
<rect x="620.75" y="913.6" width="6.4" height="66" fill="#ffa040" class="bar"/>
<path d="M611.15 979.6V987.12" class="xt"/>
<text x="611.15" y="1000.88" class="gl" style="font-size:12.8px">Ps8</text>
<path d="M643.5 974.35V964.5M641.85 964.5H645.15" class="er"/>
<g transform="translate(641.6 975.1)"><rect x="-0.75" y="0" width="6.4" height="4.5" fill="url(#pg)" class="bar"/></g>
<path d="M656.5 968.6V959.5M654.85 959.5H658.15" class="er"/>
<rect x="653.3" y="969.35" width="6.4" height="10.25" fill="url(#pb)" class="bar"/>
<path d="M668.5 959.35V948.5M666.85 948.5H670.15" class="er"/>
<rect x="665.75" y="960.1" width="6.4" height="19.5" fill="#ffa040" class="bar"/>
<path d="M656.15 979.6V987.12" class="xt"/>
<text x="656.15" y="1000.88" class="gl" style="font-size:12.8px">E coli</text>
<path d="M43.4 979.6H678.1" class="xa"/>
<path d="M50.8 980.9V809" class="ya"/>
<text x="40.9" y="984.45" class="tl" style="font-size:12.6px">0</text>
<path d="M47 971.21H50.8" class="tk"/>
<path d="M47 962.82H50.8" class="tk"/>
<path d="M47 954.43H50.8" class="tk"/>
<path d="M47 946.04H50.8" class="tk"/>
<path d="M47 937.65H50.8" class="tk"/>
<path d="M47 929.26H50.8" class="tk"/>
<path d="M47 920.87H50.8" class="tk"/>
<path d="M47 912.48H50.8" class="tk"/>
<path d="M47 904.09H50.8" class="tk"/>
<path d="M43.4 895.7H50.8" class="tk"/>
<text x="40.9" y="900.55" class="tl" style="font-size:12.6px">50</text>
<path d="M47 887.31H50.8" class="tk"/>
<path d="M47 878.92H50.8" class="tk"/>
<path d="M47 870.53H50.8" class="tk"/>
<path d="M47 862.14H50.8" class="tk"/>
<path d="M47 853.75H50.8" class="tk"/>
<path d="M47 845.36H50.8" class="tk"/>
<path d="M47 836.97H50.8" class="tk"/>
<path d="M47 828.58H50.8" class="tk"/>
<path d="M47 820.19H50.8" class="tk"/>
<path d="M43.4 811.8H50.8" class="tk"/>
<text x="40.9" y="816.65" class="tl" style="font-size:12.6px">100</text>
<text transform="translate(10.6 895.1) rotate(-90)" class="yt" style="font-size:14px">Mortality (%)</text>
<text x="364.25" y="787.53" class="ti" style="font-size:16.5px">Ethyl Acetate Whole Culture Extract Set C</text>
<rect x="637.92" y="788.09" width="16.72" height="7.61" fill="#3dd048"/>
<path d="M638.72 790.37H653.84M638.72 793.56H653.84" stroke="#62ea6c" stroke-width=".9" stroke-dasharray="1.1 .55" fill="none"/>
<path d="M646.28 788.09V795.7M637.92 791.89H654.64" stroke="#1fa52b" stroke-width=".7" fill="none"/>
<rect x="637.92" y="788.09" width="16.72" height="7.61" fill="none" class="bar" style="stroke-width:1.6"/>
<text x="665.59" y="797.24" class="lt" style="font-size:13.6px">Day 1</text>
<rect x="637.92" y="811.1" width="16.72" height="7.61" fill="#2a2aff"/>
<path d="M646.28 811.1V818.71M637.92 815.82H654.64" stroke="#1212d6" stroke-width=".7" fill="none"/>
<rect x="637.92" y="811.1" width="16.72" height="7.61" fill="none" class="bar" style="stroke-width:1.6"/>
<text x="665.59" y="820.25" class="lt" style="font-size:13.6px">Day 4</text>
<rect x="637.92" y="834.12" width="16.72" height="7.61" fill="#ffa040"/>
<rect x="637.92" y="834.12" width="16.72" height="7.61" fill="none" class="bar" style="stroke-width:1.6"/>
<text x="665.59" y="843.27" class="lt" style="font-size:13.6px">Day 7</text>
</g>
</svg>
</body></html>
